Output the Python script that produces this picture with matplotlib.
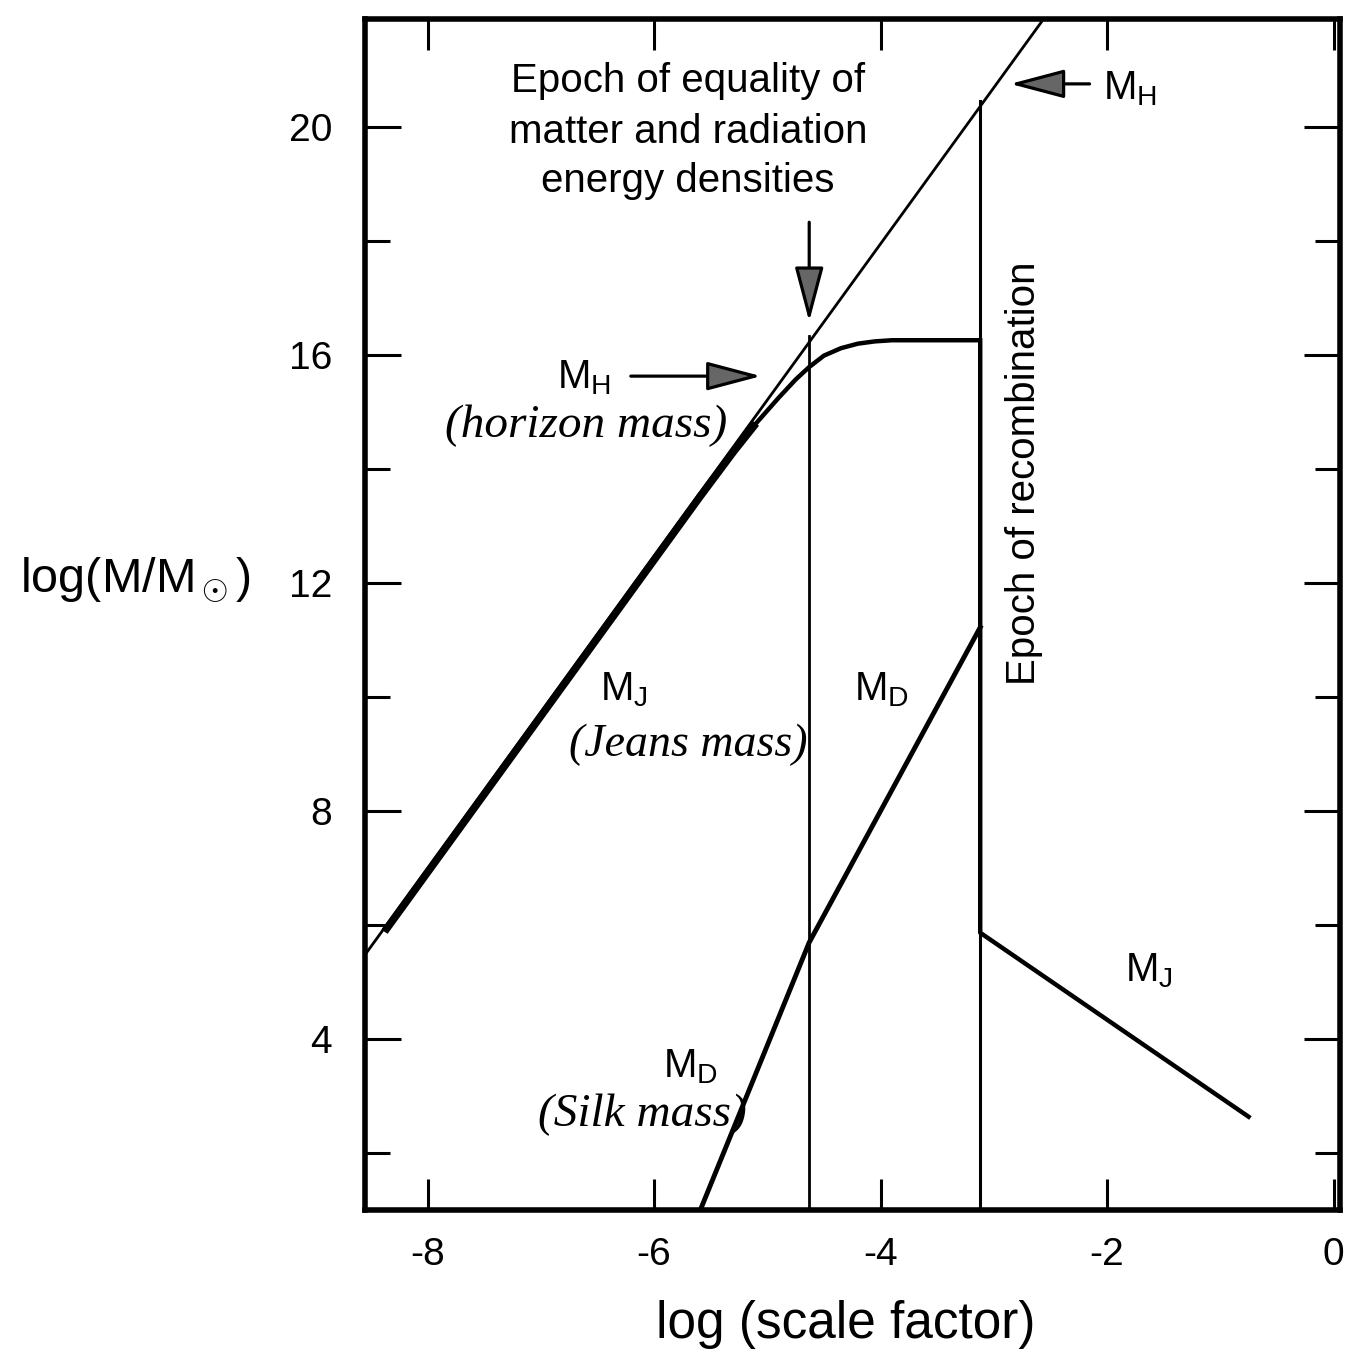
import numpy as np
import matplotlib.pyplot as plt

# ================================
# DATA
# ================================

# horizon mass M_H (straight line)
mh_x = [-8.55, -2.56]
mh_y = [5.48, 21.9]

# Jeans mass M_J before recombination
mj_x = [-8.38, -5.6, -5.3, -5.1, -4.9, -4.75, -4.63, -4.5, -4.35, -4.2, -4.05, -3.9, -3.12]
mj_y = [5.88, 13.5, 14.3, 14.8, 15.25, 15.57, 15.79, 15.99, 16.12, 16.2, 16.24, 16.26, 16.26]

# Jeans mass after recombination (drop, then decline)
mj2_x = [-3.12, -3.12, -0.75]
mj2_y = [16.26, 5.86, 2.63]

# Silk mass M_D
md_x = [-5.59, -4.63, -3.12]
md_y = [1.0, 5.69, 11.22]

# epochs
a_eq = -4.63
a_rec = -3.12
mh_at_eq = 16.33
mh_at_rec = 20.46

xticks = [-8, -6, -4, -2, 0]
yticks_major = [4, 8, 12, 16, 20]
yticks_minor = [2, 6, 10, 14, 18]

# ================================
# PLOT
# ================================

plt.rcParams['font.family'] = ['Liberation Sans', 'DejaVu Sans']
plt.rcParams['mathtext.fontset'] = 'custom'
plt.rcParams['mathtext.rm'] = 'Liberation Sans'
plt.rcParams['mathtext.it'] = 'Liberation Sans:italic'
plt.rcParams['axes.unicode_minus'] = False

fig = plt.figure(figsize=(13.48, 13.53), dpi=100)
ax = fig.add_axes([0.271, 0.106, 0.7233, 0.880])

# lines
ax.plot(mh_x, mh_y, color='k', lw=2)
ax.plot([a_eq, a_eq], [1, mh_at_eq], color='k', lw=2)
ax.plot([a_rec, a_rec], [1, mh_at_rec], color='k', lw=2.2)
ax.plot(mj_x, mj_y, color='k', lw=3.2, solid_capstyle='butt')
ax.plot(mj_x[:4], mj_y[:4], color='k', lw=5.5, solid_capstyle='butt')
ax.plot(mj2_x, mj2_y, color='k', lw=3.2)
ax.plot(md_x, md_y, color='k', lw=3.5)

# arrows
arrow_style = dict(arrowstyle='-|>,head_length=1.7,head_width=0.45', mutation_scale=20,
                   fc='0.4', ec='k', lw=2.3)
ax.annotate('', xy=(a_eq, 16.54), xytext=(a_eq, 18.38), arrowprops=arrow_style)
ax.annotate('', xy=(-2.88, 20.76), xytext=(-2.13, 20.76), arrowprops=arrow_style)
ax.annotate('', xy=(-5.03, 15.63), xytext=(-6.23, 15.63), arrowprops=arrow_style)

# labels
fs = 29
hand = dict(family='Liberation Serif', style='italic', ha='center', va='center')
ax.text(-5.7, 20.81, 'Epoch of equality of', fontsize=fs, ha='center', va='center')
ax.text(-5.7, 19.91, 'matter and radiation', fontsize=fs, ha='center', va='center')
ax.text(-5.7, 19.05, 'energy densities', fontsize=fs, ha='center', va='center')
ax.text(-2.04, 20.67, r'M$_\mathrm{H}$', fontsize=fs, ha='left', va='center')
ax.text(-6.62, 15.6, r'M$_\mathrm{H}$', fontsize=fs, ha='center', va='center')
ax.text(-6.6, 14.75, '(horizon mass)', fontsize=34, **hand)
ax.text(-6.27, 10.12, r'M$_\mathrm{J}$', fontsize=fs, ha='center', va='center')
ax.text(-5.7, 9.16, '(Jeans mass)', fontsize=33, **hand)
ax.text(-3.99, 10.12, r'M$_\mathrm{D}$', fontsize=fs, ha='center', va='center')
ax.text(-2.73, 13.92, 'Epoch of recombination', fontsize=fs, ha='center', va='center',
        rotation=90)
ax.text(-1.63, 5.2, r'M$_\mathrm{J}$', fontsize=fs, ha='center', va='center')
ax.text(-5.68, 3.5, r'M$_\mathrm{D}$', fontsize=fs, ha='center', va='center')
ax.text(-6.1, 2.66, '(Silk mass)', fontsize=34, **hand)

# axes
ax.set_xlim(-8.55, 0.06)
ax.set_ylim(1, 21.9)
ax.set_xticks(xticks)
ax.set_xticklabels([str(t) for t in xticks])
ax.set_yticks(yticks_major)
ax.set_yticklabels([str(t) for t in yticks_major])
ax.set_yticks(yticks_minor, minor=True)
ax.tick_params(axis='x', which='major', direction='in', length=22, width=2.2,
               top=True, labelsize=28, pad=20)
ax.tick_params(axis='y', which='major', direction='in', length=26, width=2.2,
               right=True, labelsize=28, pad=24)
ax.tick_params(axis='y', which='minor', direction='in', length=18, width=2.2,
               right=True)
for sp in ax.spines.values():
    sp.set_linewidth(4)

fig.text(0.10, 0.571, r'log(M/M$_\odot$)', fontsize=35, ha='center', va='center')
fig.text(0.627, 0.021, 'log (scale factor)', fontsize=37, ha='center', va='center')

fig.savefig('out.png', dpi=100)
